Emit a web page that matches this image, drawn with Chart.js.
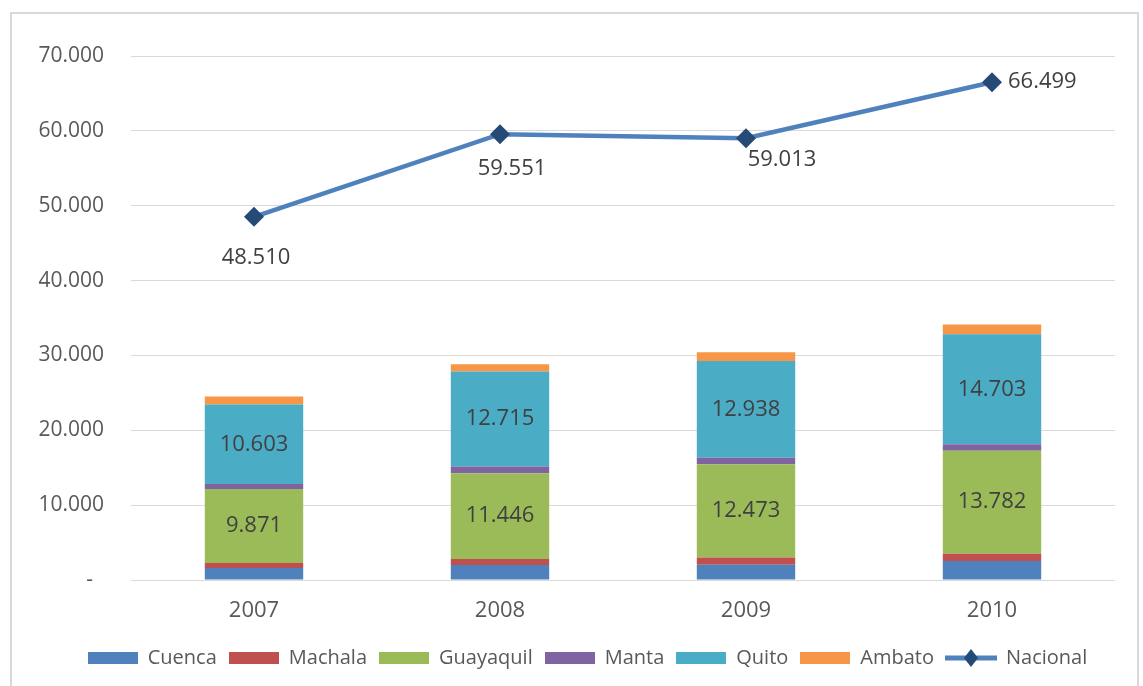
<!DOCTYPE html>
<html lang="es">
<head>
<meta charset="utf-8">
<title>Gasto por ciudad y nacional 2007-2010</title>
<script src="https://cdn.jsdelivr.net/npm/chart.js@4.4.1/dist/chart.umd.min.js"></script>
<style>
  html, body { margin: 0; padding: 0; background: #ffffff; overflow: hidden; }
  #wrap { position: relative; width: 1143px; height: 686px; }
  #frame {
    position: absolute; left: 10px; top: 12px; width: 1129px; height: 700px;
    border: 2px solid #d9d9d9; box-sizing: border-box;
  }
  #c { position: absolute; left: 0; top: 0; }
</style>
</head>
<body>
<div id="wrap">
  <div id="frame"></div>
  <canvas id="c" width="1143" height="686"></canvas>
</div>
<script>
// Categories and series
const years = ['2007', '2008', '2009', '2010'];
const cuenca    = [1600, 2000, 2050, 2550];
const machala   = [680, 800, 950, 950];
const guayaquil = [9871, 11446, 12473, 13782];
const manta     = [680, 900, 850, 850];
const quito     = [10603, 12715, 12938, 14703];
const ambato    = [1080, 950, 1150, 1300];
const nacional  = [48510, 59551, 59013, 66499];

// Y axis tick values
const yTicks = [0, 10000, 20000, 30000, 40000, 50000, 60000, 70000];

const FONT = "'Open Sans', 'Liberation Sans', sans-serif";
const COLORS = {
  cuenca: '#4F81BD', machala: '#C0504D', guayaquil: '#9BBB59',
  manta: '#8064A2', quito: '#4BACC6', ambato: '#F79646',
  line: '#4F81BD', marker: '#264A78'
};

// 70000 -> "70.000"
function fmt(v) {
  return String(Math.round(v)).replace(/\B(?=(\d{3})+(?!\d))/g, '.');
}

// Legend icons: flat swatches for bars, line with diamond for the national series
function swatch(color) {
  const c = document.createElement('canvas');
  c.width = 50; c.height = 12;
  const g = c.getContext('2d');
  g.fillStyle = color; g.fillRect(0, 0, 50, 12);
  return c;
}
function lineSwatch() {
  const c = document.createElement('canvas');
  c.width = 52; c.height = 20;
  const g = c.getContext('2d');
  g.strokeStyle = COLORS.line; g.lineWidth = 5;
  g.beginPath(); g.moveTo(0, 10); g.lineTo(52, 10); g.stroke();
  g.fillStyle = COLORS.marker;
  g.beginPath(); g.moveTo(26, 1); g.lineTo(33, 10); g.lineTo(26, 19); g.lineTo(19, 10); g.closePath(); g.fill();
  return c;
}

// Value labels drawn from the elements the library laid out
const valueLabels = {
  id: 'valueLabels',
  afterDatasetsDraw(chart) {
    const ctx = chart.ctx;
    chart.data.datasets.forEach((ds, i) => {
      const lab = ds.valueLabel;
      if (!lab) return;
      const meta = chart.getDatasetMeta(i);
      ctx.save();
      ctx.font = `${lab.size}px ${FONT}`;
      ctx.fillStyle = '#404040';
      meta.data.forEach((el, j) => {
        const v = ds.data[j];
        const off = lab.offsets ? lab.offsets[j] : [0, 0, 'center'];
        const x = el.x + off[0];
        const y = (lab.mid ? (el.y + el.base) / 2 : el.y) + off[1];
        ctx.textAlign = off[2] || 'center';
        ctx.textBaseline = 'middle';
        ctx.fillText(fmt(v), x, y);
      });
      ctx.restore();
    });
  }
};

// Nudges the legend row so it sits centred under the whole frame
const legendShift = {
  id: 'legendShift',
  afterLayout(chart) {
    const lg = chart.legend;
    if (lg) { lg.left += 20; lg.right += 20; }
  }
};

const barCommon = { type: 'bar', stack: 'ciudades', barPercentage: 0.4, categoryPercentage: 1.0, borderWidth: 0, order: 1 };

const chart = new Chart(document.getElementById('c'), {
  data: {
    labels: years,
    datasets: [
      Object.assign({ label: 'Cuenca', data: cuenca, backgroundColor: COLORS.cuenca }, barCommon),
      Object.assign({ label: 'Machala', data: machala, backgroundColor: COLORS.machala }, barCommon),
      Object.assign({ label: 'Guayaquil', data: guayaquil, backgroundColor: COLORS.guayaquil,
        valueLabel: { size: 22, mid: true } }, barCommon),
      Object.assign({ label: 'Manta', data: manta, backgroundColor: COLORS.manta }, barCommon),
      Object.assign({ label: 'Quito', data: quito, backgroundColor: COLORS.quito,
        valueLabel: { size: 22, mid: true } }, barCommon),
      Object.assign({ label: 'Ambato', data: ambato, backgroundColor: COLORS.ambato }, barCommon),
      {
        type: 'line', label: 'Nacional', data: nacional, stack: 'nacional', order: 0,
        borderColor: COLORS.line, borderWidth: 4.5, tension: 0, fill: false,
        pointStyle: 'rectRot', pointRadius: 10, pointHoverRadius: 10,
        pointBackgroundColor: COLORS.marker, pointBorderColor: COLORS.marker, pointBorderWidth: 0,
        valueLabel: { size: 22, offsets: [[2, 41, 'center'], [12, 35, 'center'], [36, 21, 'center'], [16, 0, 'left']] }
      }
    ]
  },
  options: {
    responsive: false,
    animation: false,
    events: [],
    layout: { padding: { left: 20, right: 28, top: 56, bottom: 8 } },
    scales: {
      x: {
        stacked: true,
        offset: true,
        grid: { display: false, drawTicks: false },
        border: { display: false },
        ticks: { color: '#595959', font: { family: FONT, size: 22 }, padding: 18 },
        afterFit(scale) { scale.height = 56; }
      },
      y: {
        stacked: true,
        min: 0, max: 70000,
        afterBuildTicks(scale) { scale.ticks = yTicks.map(v => ({ value: v })); },
        afterFit(scale) { scale.width = 111; },
        grid: { color: '#d9d9d9', lineWidth: 1, drawTicks: false },
        border: { display: false },
        ticks: {
          color: '#595959', font: { family: FONT, size: 21 }, padding: 27,
          callback: v => (v === 0 ? '-  ' : fmt(v))
        }
      }
    },
    plugins: {
      tooltip: { enabled: false },
      legend: {
        position: 'bottom',
        labels: {
          usePointStyle: true,
          pointStyleWidth: 50,
          boxHeight: 12,
          padding: 12,
          color: '#595959',
          font: { family: FONT, size: 20 },
          sort: (a, b) => a.datasetIndex - b.datasetIndex,
          generateLabels(ch) {
            const items = Chart.defaults.plugins.legend.labels.generateLabels(ch);
            items.forEach(it => {
              const ds = ch.data.datasets[it.datasetIndex];
              it.pointStyle = ds.type === 'line' ? lineSwatch() : swatch(ds.backgroundColor);
            });
            return items;
          }
        }
      }
    }
  },
  plugins: [valueLabels, legendShift]
});
</script>
</body>
</html>
